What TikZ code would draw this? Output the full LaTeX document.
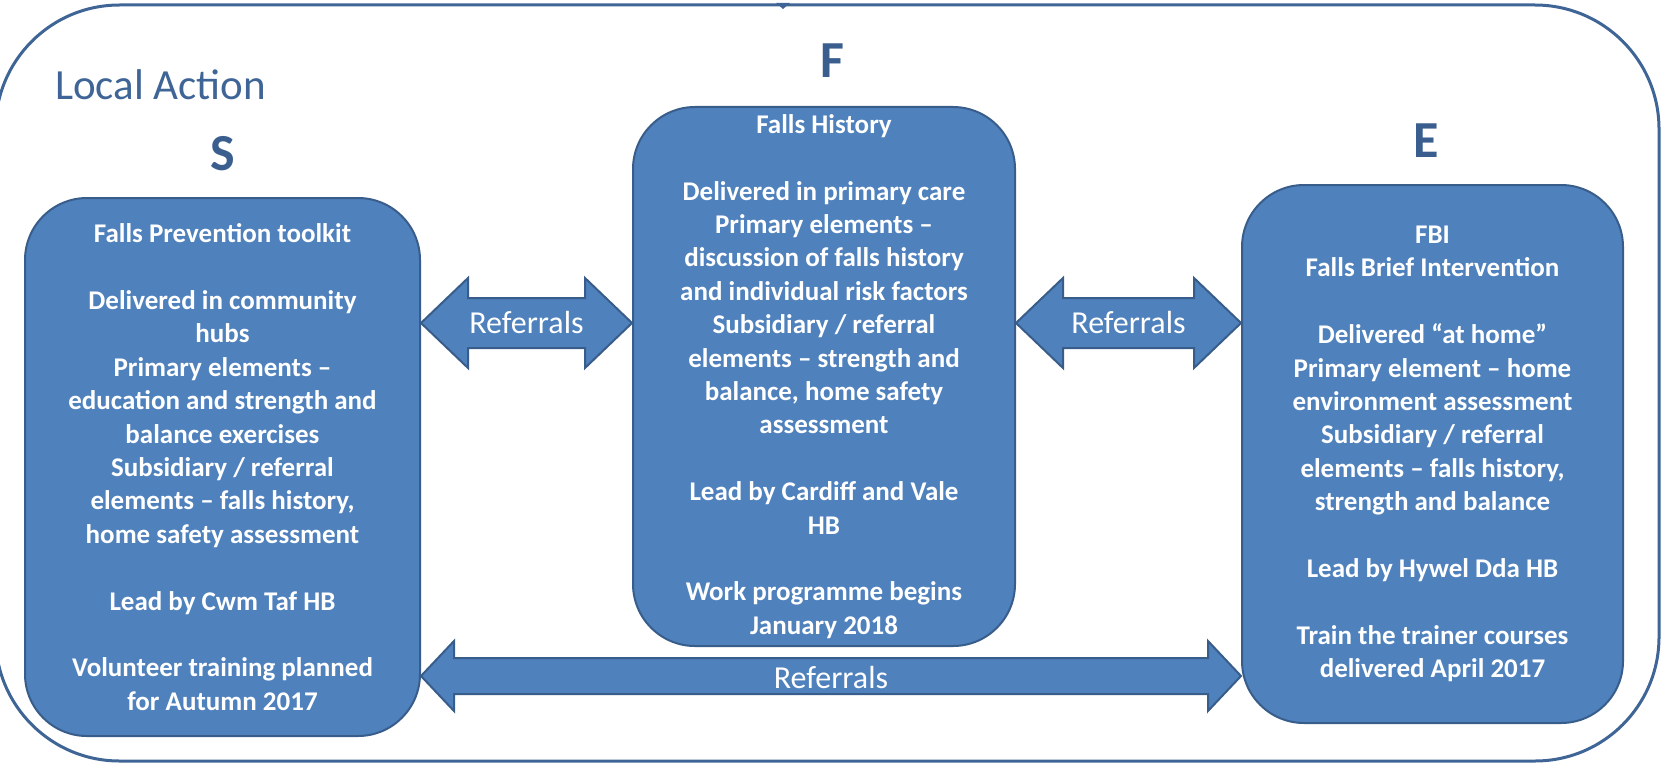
\documentclass[tikz,border=0pt]{standalone}
\usepackage{fontspec}
\setmainfont{Carlito}
\usetikzlibrary{calc}

\definecolor{boxblue}{HTML}{4F81BD}
\definecolor{edgeblue}{HTML}{385D8A}
\definecolor{headblue}{HTML}{3A5F8F}
\definecolor{frameblue}{HTML}{3F6596}

% block arrow: from, to, head length, head half height, shaft half height
\newcommand\dblarrow[5]{%
  \draw[refarrow] (#1) -- ($(#1)+(#3,-#4)$) -- ($(#1)+(#3,-#5)$) -- ($(#2)+(-#3,-#5)$)
    -- ($(#2)+(-#3,-#4)$) -- (#2) -- ($(#2)+(-#3,#4)$) -- ($(#2)+(-#3,#5)$)
    -- ($(#1)+(#3,#5)$) -- ($(#1)+(#3,#4)$) -- cycle;}

\begin{document}
\begin{tikzpicture}[x=1pt,y=-1pt,
    phase/.style={draw=edgeblue,fill=boxblue,line width=2pt,rounded corners=62pt,
      inner sep=0pt,text=white,align=center,
      font=\fontsize{27}{33.4}\selectfont\bfseries},
    refarrow/.style={draw=edgeblue,fill=boxblue,line width=2pt,line join=miter},
    reflabel/.style={text=white,inner sep=0pt,font=\fontsize{32}{38}\selectfont},
    letter/.style={text=headblue,inner sep=0pt,font=\fontsize{52}{60}\selectfont\bfseries}]

    \useasboundingbox (0,0) rectangle (1662,765);

    % frame
    \draw[frameblue,line width=3pt,rounded corners=124pt] (-4.5,5) rectangle (1659,761);
    \fill[frameblue] (776,3) -- (790,3) -- (783,9) -- cycle;
    \node[anchor=base west,inner sep=0pt,text=frameblue,font=\fontsize{43}{50}\selectfont]
      (local) at (55,100) {Local Action};

    \node[letter] (lS) at (223,154) {S};
    \node[letter] (lF) at (832,61) {F};
    \node[letter] (lE) at (1426,141) {E};

    \node[phase,minimum width=395pt,minimum height=538pt] (S) at (222.5,467)
      {Falls Prevention toolkit\\[\baselineskip]Delivered in community\\hubs\\Primary elements --\\
       education and strength and\\balance exercises\\Subsidiary / referral\\
       elements -- falls history,\\home safety assessment\\[\baselineskip]
       Lead by Cwm Taf HB\\[\baselineskip]Volunteer training planned\\for Autumn 2017};
    \node[phase,minimum width=382pt,minimum height=539pt] (F) at (824,376.5)
      {Falls History\\[\baselineskip]Delivered in primary care\\Primary elements --\\
       discussion of falls history\\and individual risk factors\\Subsidiary / referral\\
       elements -- strength and\\balance, home safety\\assessment\\[\baselineskip]
       Lead by Cardiff and Vale\\HB\\[\baselineskip]Work programme begins\\January 2018};
    \node[phase,minimum width=381pt,minimum height=538pt] (E) at (1432.5,454)
      {FBI\\Falls Brief Intervention\\[\baselineskip]Delivered ``at home''\\
       Primary element -- home\\environment assessment\\Subsidiary / referral\\
       elements -- falls history,\\strength and balance\\[\baselineskip]
       Lead by Hywel Dda HB\\[\baselineskip]Train the trainer courses\\delivered April 2017};

    % referrals
    \coordinate (SFa) at (S.east |- 0,323);
    \coordinate (SFb) at (F.west |- 0,323);
    \coordinate (FEa) at (F.east |- 0,323);
    \coordinate (FEb) at (E.west |- 0,323);
    \coordinate (SEa) at (S.east |- 0,676);
    \coordinate (SEb) at (E.west |- 0,676);

    \dblarrow{SFa}{SFb}{47}{45}{25}
    \dblarrow{FEa}{FEb}{47}{45}{25}
    \dblarrow{SEa}{SEb}{33}{35}{18}

    \node[reflabel] (rSF) at ($(SFa)!0.5!(SFb)$) {Referrals};
    \node[reflabel] (rFE) at ($(FEa)!0.5!(FEb)$) {Referrals};
    \node[reflabel] (rSE) at ($(SEa)!0.5!(SEb)+(0,2)$) {Referrals};

\end{tikzpicture}
\end{document}
